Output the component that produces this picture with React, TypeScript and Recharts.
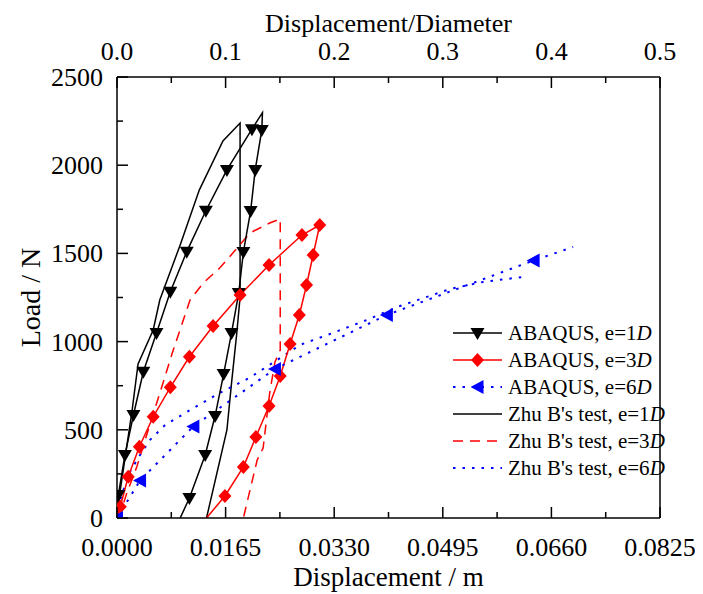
import React from 'react';
import { LineChart, Line, XAxis, YAxis, Legend } from 'recharts';

// [displacement (m), load (N)]
const abaqus1D = [
  [0, 0], [0.0002, 130], [0.0012, 357], [0.0025, 584], [0.004, 829], [0.006, 1049],
  [0.0081, 1283], [0.0106, 1510], [0.0135, 1742], [0.0167, 1973], [0.0205, 2204],
  [0.0221, 2298], [0.022, 2200], [0.021, 1973], [0.0203, 1740], [0.0192, 1508],
  [0.0185, 1276], [0.0174, 1049], [0.0162, 816], [0.0149, 578], [0.0134, 357],
  [0.011, 113], [0.0096, 0],
];
const abaqus3D = [
  [0, 0], [0.0005, 64], [0.0017, 234], [0.0034, 404], [0.0055, 574], [0.0081, 741],
  [0.011, 914], [0.0146, 1088], [0.0187, 1264], [0.0231, 1434], [0.0281, 1604],
  [0.0308, 1661], [0.0298, 1491], [0.0288, 1321], [0.0277, 1151], [0.0263, 986],
  [0.0248, 805], [0.0231, 635], [0.0211, 459], [0.0192, 289], [0.0164, 125], [0.0136, 0],
];
const abaqus6D = [
  [0, 0], [0.0035, 213], [0.0116, 519], [0.024, 845], [0.041, 1151], [0.0633, 1460], [0.0693, 1536],
];
const zhu1D = [
  [0, 0], [0.0005, 159], [0.0014, 385], [0.0023, 612], [0.0032, 873], [0.0055, 1066],
  [0.0065, 1236], [0.0096, 1548], [0.0125, 1859], [0.0161, 2137], [0.0187, 2239],
  [0.0187, 1253], [0.0182, 1049], [0.0174, 765], [0.0167, 499], [0.0136, 0],
];
const zhu3D = [
  [0, 0], [0.0005, 28], [0.0015, 142], [0.003, 289], [0.0046, 482], [0.0068, 743],
  [0.0084, 935], [0.0111, 1236], [0.0131, 1332], [0.0156, 1417], [0.0176, 1502],
  [0.0202, 1616], [0.0232, 1672], [0.0248, 1695], [0.0248, 952], [0.024, 884],
  [0.0232, 709], [0.0222, 397], [0.0213, 329], [0.0192, 0],
];
const zhu6D = [
  [0, 0], [0.0005, 102], [0.0017, 244], [0.0035, 357], [0.005, 442], [0.0073, 527],
  [0.0111, 612], [0.0156, 709], [0.0201, 794], [0.0248, 907], [0.0278, 981],
  [0.0328, 1049], [0.0379, 1122], [0.043, 1202], [0.0506, 1298], [0.0556, 1338], [0.0622, 1369],
];

const xMajor = [0, 0.0165, 0.033, 0.0495, 0.066, 0.0825];
const xMinor = [0.00825, 0.02475, 0.04125, 0.05775, 0.07425];
const dMajor = [0, 0.1, 0.2, 0.3, 0.4, 0.5];
const dMinor = [0.05, 0.15, 0.25, 0.35, 0.45];
const yMajor = [0, 500, 1000, 1500, 2000, 2500];
const yMinor = [250, 750, 1250, 1750, 2250];

const FONT = '"Liberation Serif", "Times New Roman", serif';
const TICK_FS = 26;

const toPoints = (arr: number[][]) => arr.map(([x, y]) => ({ x, y }));

const Marker = ({ shape, cx, cy, color }: any) => {
  if (shape === 'down')
    return <path d={`M${cx - 7},${cy - 5}L${cx + 7},${cy - 5}L${cx},${cy + 7}Z`} fill={color} />;
  if (shape === 'diamond')
    return <path d={`M${cx},${cy - 7}L${cx + 6.5},${cy}L${cx},${cy + 7}L${cx - 6.5},${cy}Z`} fill={color} />;
  return <path d={`M${cx - 7},${cy}L${cx + 6},${cy - 7}L${cx + 6},${cy + 7}Z`} fill={color} />;
};

const series = [
  { key: 'a1', name: 'ABAQUS, e=1', data: abaqus1D, color: '#000000', dash: undefined, width: 1.5, marker: 'down', skip: [0, 11, 22] },
  { key: 'a3', name: 'ABAQUS, e=3', data: abaqus3D, color: '#ff0000', dash: undefined, width: 1.5, marker: 'diamond', skip: [21] },
  { key: 'a6', name: 'ABAQUS, e=6', data: abaqus6D, color: '#0000ff', dash: '2.5 7', width: 2, marker: 'left', skip: [6] },
  { key: 'z1', name: "Zhu B's test, e=1", data: zhu1D, color: '#000000', dash: undefined, width: 1.5, marker: null, skip: [] },
  { key: 'z3', name: "Zhu B's test, e=3", data: zhu3D, color: '#ff0000', dash: '10 7', width: 1.5, marker: null, skip: [] },
  { key: 'z6', name: "Zhu B's test, e=6", data: zhu6D, color: '#0000ff', dash: '2.5 7', width: 2, marker: null, skip: [] },
];

const BottomTick = ({ x, y, payload }: any) => {
  const major = xMajor.includes(payload.value);
  return (
    <g>
      <line x1={x} x2={x} y1={y} y2={y - (major ? 11 : 6)} stroke="#000" strokeWidth={1.5} />
      {major && (
        <text x={x} y={y + 38} textAnchor="middle" fontSize={TICK_FS} fontFamily={FONT} fill="#000">
          {payload.value.toFixed(4)}
        </text>
      )}
    </g>
  );
};

const TopTick = ({ x, y, payload }: any) => {
  const major = dMajor.includes(payload.value);
  return (
    <g>
      <line x1={x} x2={x} y1={y} y2={y + (major ? 11 : 6)} stroke="#000" strokeWidth={1.5} />
      {major && (
        <text x={x} y={y - 17} textAnchor="middle" fontSize={TICK_FS} fontFamily={FONT} fill="#000">
          {payload.value.toFixed(1)}
        </text>
      )}
    </g>
  );
};

const LeftTick = ({ x, y, payload }: any) => {
  const major = yMajor.includes(payload.value);
  return (
    <g>
      <line x1={x} x2={x + (major ? 11 : 6)} y1={y} y2={y} stroke="#000" strokeWidth={1.5} />
      {major && (
        <text x={x - 14} y={y + 9} textAnchor="end" fontSize={TICK_FS} fontFamily={FONT} fill="#000">
          {payload.value}
        </text>
      )}
    </g>
  );
};

const makeDot = (s: any) => (props: any) => {
  const { cx, cy, index } = props;
  if (!s.marker || s.skip.includes(index) || cx == null) return <g key={`${s.key}-${index}`} />;
  return (
    <g key={`${s.key}-${index}`}>
      <Marker shape={s.marker} cx={cx} cy={cy} color={s.color} />
    </g>
  );
};

const renderLegend = () => (
  <svg width={270} height={170} style={{ display: 'block' }}>
    {series.map((s, i) => {
      const cy = 15 + i * 27;
      return (
        <g key={s.key}>
          <line x1={5} x2={54} y1={cy} y2={cy} stroke={s.color} strokeWidth={s.width} strokeDasharray={s.dash} />
          {s.marker && <Marker shape={s.marker} cx={29.5} cy={cy} color={s.color} />}
          <text x={60} y={cy + 7} fontSize={21} fontFamily={FONT} fill="#000">
            {s.name}
            <tspan fontStyle="italic">D</tspan>
          </text>
        </g>
      );
    })}
  </svg>
);

export default function App() {
  return (
    <div style={{ width: 695, height: 586, position: 'relative', background: '#fff' }}>
      <LineChart width={695} height={586} margin={{ top: 0, right: 0, bottom: 0, left: 0 }}>
        <XAxis
          dataKey="x"
          type="number"
          domain={[0, 0.0825]}
          allowDataOverflow
          ticks={[...xMajor, ...xMinor]}
          interval={0}
          height={76}
          tickSize={0}
          tickMargin={0}
          tickLine={false}
          tick={<BottomTick />}
          axisLine={{ stroke: '#000', strokeWidth: 1.5 }}
          label={(p: any) => {
            const vb = p.viewBox || { x: 109, y: 510, width: 543 };
            return (
              <text x={vb.x + vb.width / 2} y={vb.y + 68} textAnchor="middle" fontSize={27} fontFamily={FONT} fill="#000">
                Displacement / m
              </text>
            );
          }}
        />
        <XAxis
          xAxisId="top"
          dataKey="x"
          orientation="top"
          type="number"
          domain={[0, 0.5]}
          allowDataOverflow
          ticks={[...dMajor, ...dMinor]}
          interval={0}
          height={69}
          tickSize={0}
          tickMargin={0}
          tickLine={false}
          tick={<TopTick />}
          axisLine={{ stroke: '#000', strokeWidth: 1.5 }}
          label={(p: any) => {
            const vb = p.viewBox || { x: 109, y: 0, width: 543 };
            return (
              <text x={vb.x + vb.width / 2} y={vb.y + 24} textAnchor="middle" fontSize={26} fontFamily={FONT} fill="#000">
                Displacement/Diameter
              </text>
            );
          }}
        />
        <YAxis
          type="number"
          domain={[0, 2500]}
          allowDataOverflow
          ticks={[...yMajor, ...yMinor]}
          interval={0}
          width={109}
          tickSize={0}
          tickMargin={0}
          tickLine={false}
          tick={<LeftTick />}
          axisLine={{ stroke: '#000', strokeWidth: 1.5 }}
          label={(p: any) => {
            const vb = p.viewBox || { x: 0, y: 69, height: 441 };
            const cx = 22;
            const cy = vb.y + vb.height / 2;
            return (
              <text x={cx} y={cy} dy="0.35em" transform={`rotate(-90, ${cx}, ${cy})`} textAnchor="middle" fontSize={28} fontFamily={FONT} fill="#000">
                Load / N
              </text>
            );
          }}
        />
        <YAxis
          yAxisId="right"
          orientation="right"
          type="number"
          domain={[0, 2500]}
          allowDataOverflow
          width={43}
          tick={false}
          tickLine={false}
          axisLine={{ stroke: '#000', strokeWidth: 1.5 }}
        />
        <Legend
          content={renderLegend}
          layout="horizontal"
          verticalAlign="middle"
          align="center"
          wrapperStyle={{ position: 'absolute', left: 440, top: 310, width: 270, height: 170 }}
        />
        {/* invisible helper so the top (displacement/diameter) axis gets a domain */}
        <Line
          xAxisId="top"
          data={dMajor.map((d) => ({ x: d, y: 0 }))}
          dataKey="y"
          stroke="none"
          dot={false}
          activeDot={false}
          legendType="none"
          isAnimationActive={false}
        />
        {[...series.slice(3), ...series.slice(0, 3)].map((s) => (
          <Line
            key={s.key}
            data={toPoints(s.data)}
            dataKey="y"
            type="linear"
            stroke={s.color}
            strokeWidth={s.width}
            strokeDasharray={s.dash}
            dot={makeDot(s)}
            activeDot={false}
            legendType="none"
            isAnimationActive={false}
          />
        ))}
      </LineChart>
    </div>
  );
}
